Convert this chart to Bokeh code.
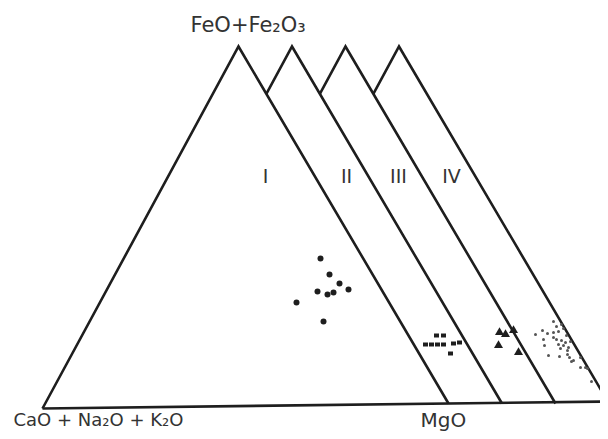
from bokeh.plotting import figure
from bokeh.models import Range1d
from bokeh.embed import file_html
from bokeh.resources import INLINE
from bokeh.core.properties import value

# ---- diagram geometry (diagram units, y grows downward as on the printed page)
tri_left = (42.0, 408.0)     # CaO + Na2O + K2O corner
tri_apex = (238.0, 46.0)     # FeO + Fe2O3 corner
tri_right = (448.0, 403.0)   # MgO corner
tri_shift = [0.0, 53.5, 107.0, 160.5]
tri_labels = ["I", "II", "III", "IV"]
label_x = [265, 346, 398, 451]
label_y = [175, 175, 175, 175]

# ---- sample groups (positions in the diagram plane)
g1_x = [320, 329, 339, 348, 317, 327, 333, 296, 323]
g1_y = [258, 274, 283, 289, 291, 294, 292, 302, 321]

g2_x = [425, 431, 437, 443, 436, 443, 453, 459, 450]
g2_y = [344, 344, 344, 344, 335, 335, 343, 342, 353]

g3_x = [499, 505, 513, 498, 518]
g3_y = [332, 334, 330, 345, 352]

g4_x = [553, 561, 556, 535, 542, 547, 553, 558, 563, 566, 556, 561, 565, 570,
        543, 544, 558, 563, 568, 560, 567, 548, 559, 567, 569, 571, 573, 580,
        580, 587, 591, 553, 585]
g4_y = [321, 324, 326, 334, 330, 333, 332, 331, 328, 335, 339, 340, 342, 341,
        339, 345, 344, 345, 347, 348, 350, 355, 356, 354, 357, 361, 360, 357,
        367, 368, 381, 337, 367]

INK = "#1e1e1e"
TXT = "#333333"
FONT = value("DejaVu Sans")

p = figure(width=600, height=431, output_backend="svg", toolbar_location=None,
           x_range=Range1d(0, 600), y_range=Range1d(431, 0),
           min_border=0, outline_line_color=None)
p.axis.visible = False
p.grid.visible = False
p.background_fill_color = "white"
p.border_fill_color = "white"


def intersect(p1, p2, p3, p4):
    x1, y1 = p1; x2, y2 = p2; x3, y3 = p3; x4, y4 = p4
    d = (x1 - x2) * (y3 - y4) - (y1 - y2) * (x3 - x4)
    t = ((x1 - x3) * (y3 - y4) - (y1 - y3) * (x3 - x4)) / d
    return (x1 + t * (x2 - x1), y1 + t * (y2 - y1))


def shifted(pt, s):
    return (pt[0] + s, pt[1])


# base line, extended to the right edge
bx0, by0 = tri_left
slope = (tri_right[1] - tri_left[1]) / (tri_right[0] - tri_left[0])
p.line([bx0, 630], [by0, by0 + slope * (630 - bx0)], line_color=INK, line_width=2.6)

for k, s in enumerate(tri_shift):
    A = shifted(tri_apex, s)
    R = shifted(tri_right, s)
    L = shifted(tri_left, s)
    if k == 0:
        start = L
    else:
        Ap = shifted(tri_apex, tri_shift[k - 1])
        Rp = shifted(tri_right, tri_shift[k - 1])
        start = intersect(A, L, Ap, Rp)
    p.line([start[0], A[0], R[0]], [start[1], A[1], R[1]],
           line_color=INK, line_width=2.6, line_join="miter")

# samples
p.scatter(g1_x, g1_y, marker="circle", size=6, fill_color=INK, line_color=None)
p.rect(g2_x, g2_y, width=5, height=4, width_units="screen", height_units="screen",
       fill_color=INK, line_color=None)
p.scatter(g3_x, g3_y, marker="triangle", size=9, fill_color=INK, line_color=None)
p.scatter(g4_x, g4_y, marker="circle", size=3, fill_color="#555555", line_color=None)

# labels
p.text(label_x, label_y, text=tri_labels, text_font=FONT, text_font_size="19px",
       text_color=TXT, text_align="center", text_baseline="middle")
p.text([190], [24], text=["FeO+Fe₂O₃"], text_font=FONT, text_font_size="21px",
       text_color=TXT, text_baseline="middle")
p.text([13], [419], text=["CaO + Na₂O + K₂O"], text_font=FONT, text_font_size="18px",
       text_color=TXT, text_baseline="middle")
p.text([420], [419], text=["MgO"], text_font=FONT, text_font_size="20px",
       text_color=TXT, text_baseline="middle")

open("out.html", "w").write(file_html(p, INLINE))
